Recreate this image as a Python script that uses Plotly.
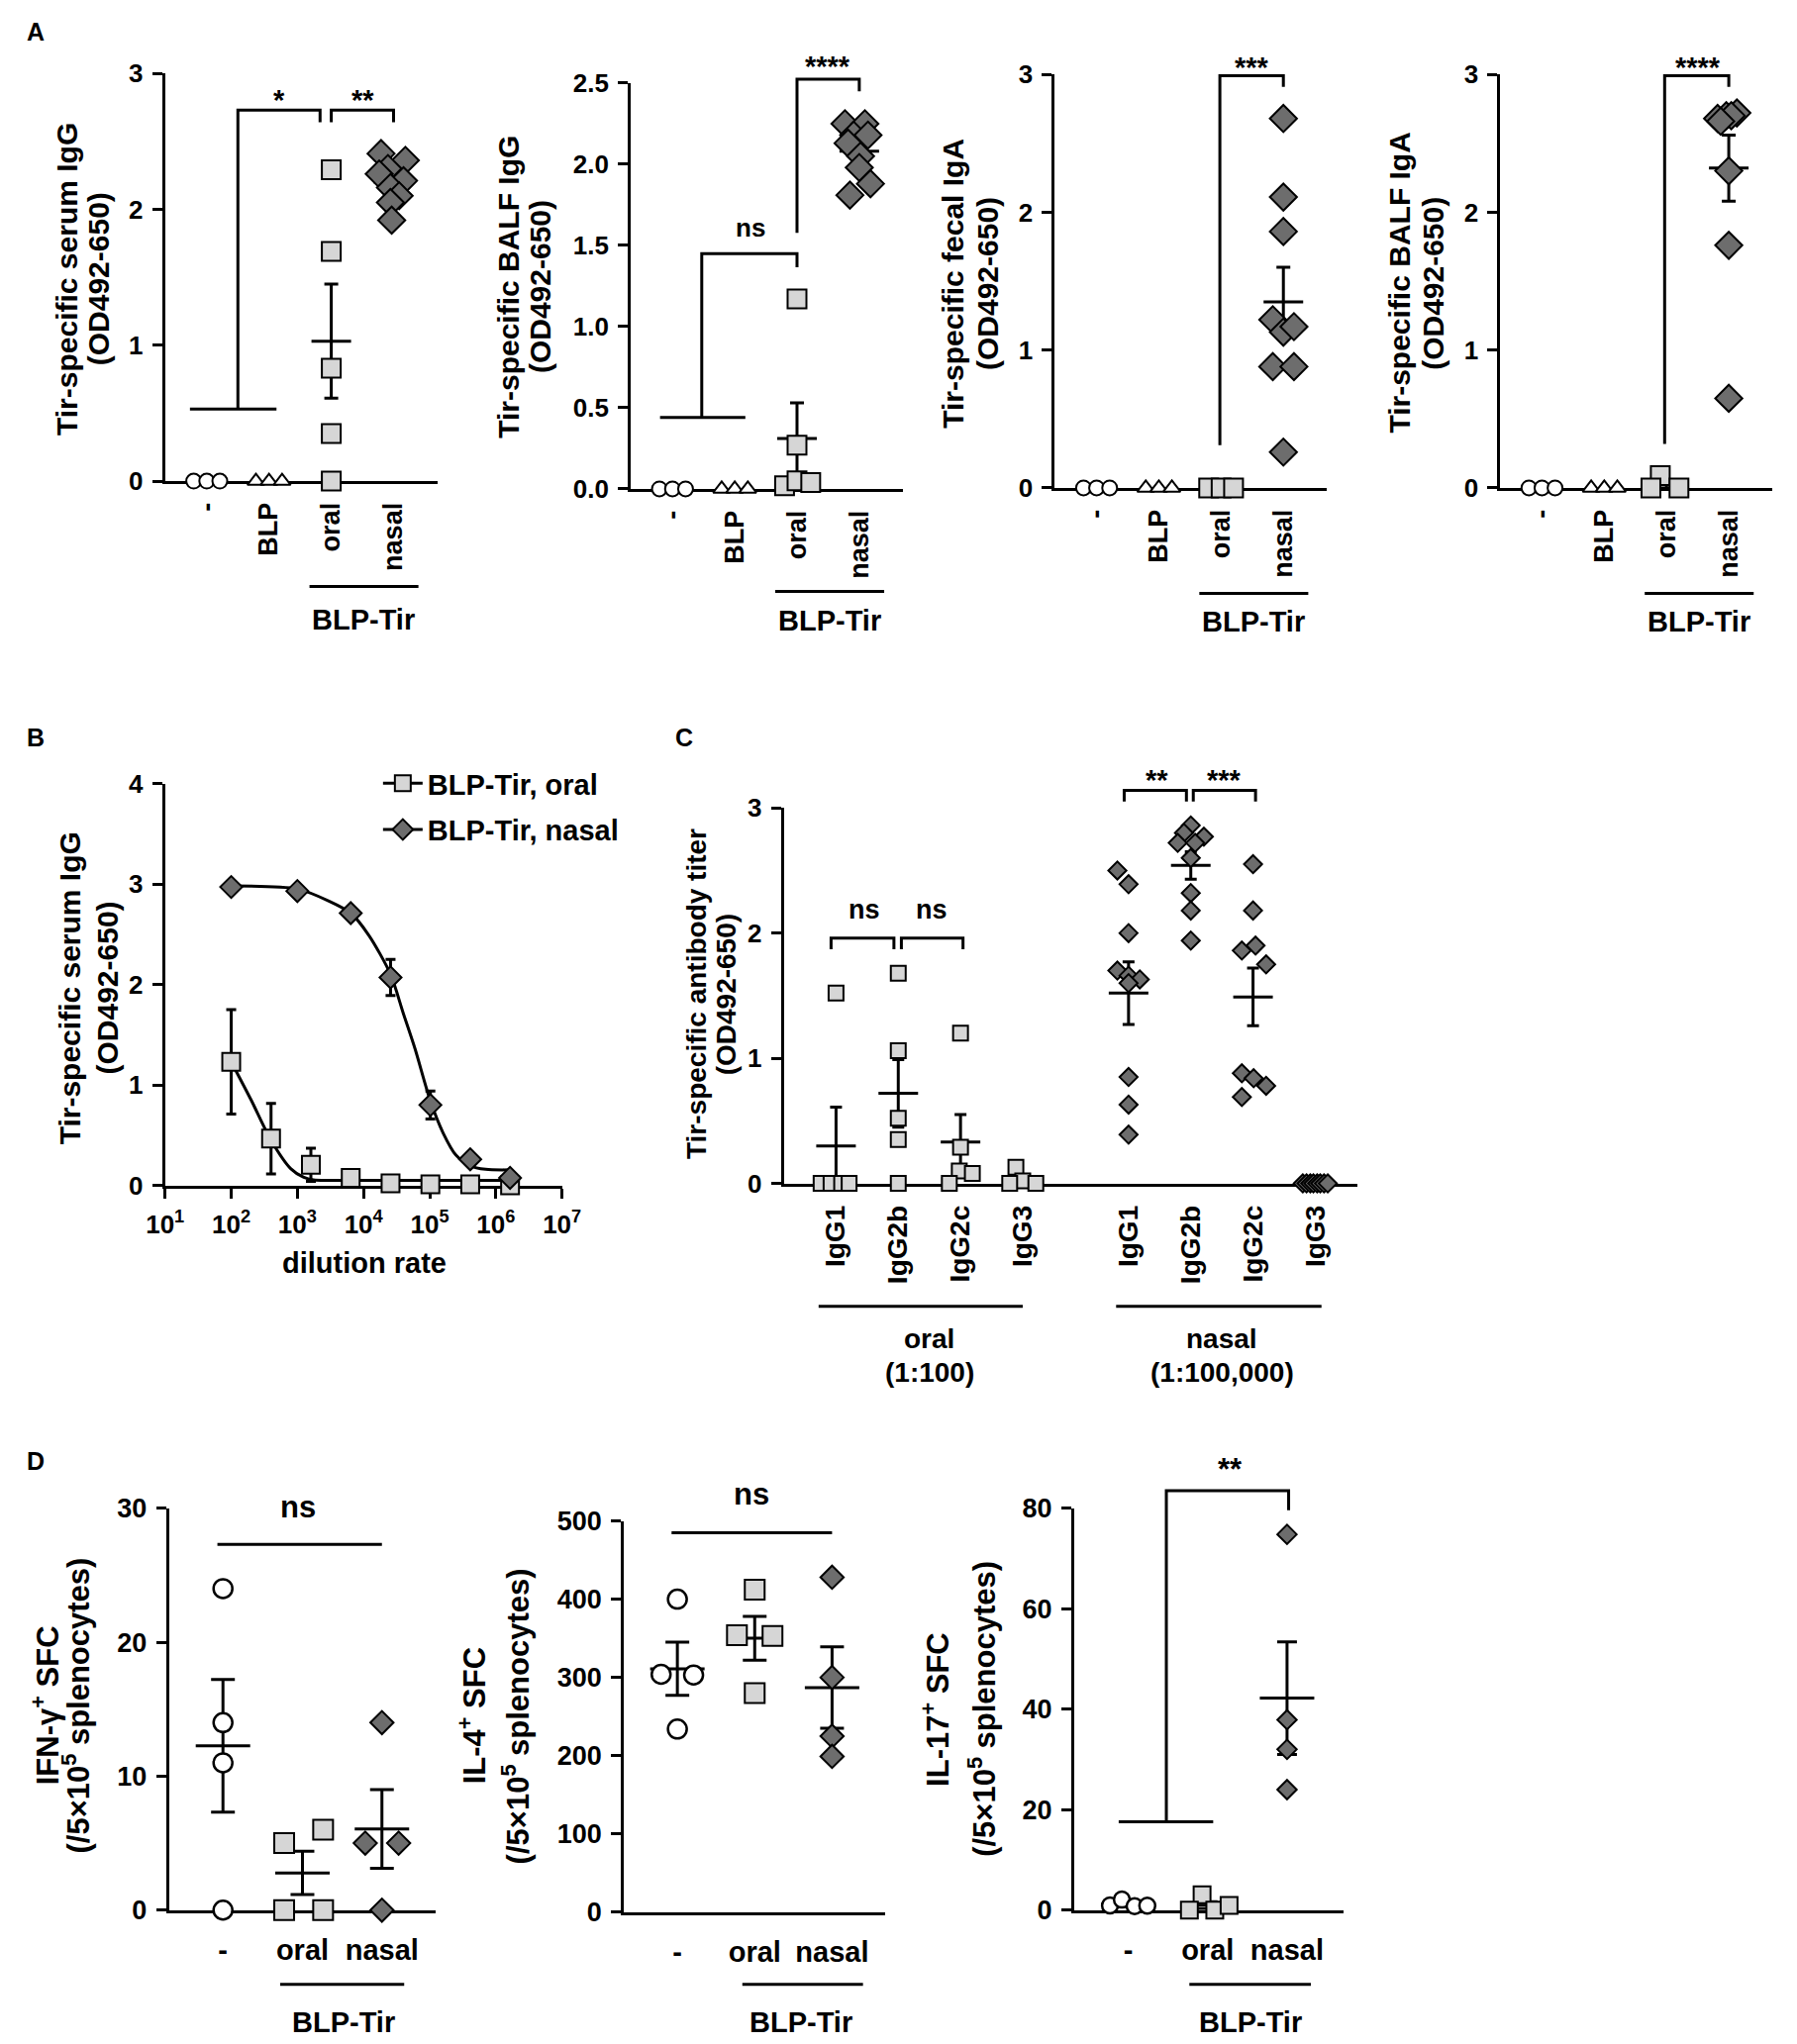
import plotly.graph_objects as go

W, H = 1815, 2065
FONT = "Liberation Sans, Arial, sans-serif"
LIGHT = "#d6d6d6"
DARK = "#6d6d6d"

# ---------------- data ----------------
# A: group positions 0 "-", 1 BLP, 2 BLP-Tir oral, 3 BLP-Tir nasal
a_groups = ["-", "BLP", "oral", "nasal"]
a_ctrl = [0, 0, 0]
a_ctrl_dx = [-0.21, 0, 0.21]

a1_oral = [2.29, 1.69, 0.83, 0.35, 0.0]
a1_oral_dx = [0, 0, 0, 0, 0]
a1_nasal = [2.41, 2.36, 2.30, 2.26, 2.21, 2.16, 2.10, 2.05, 1.92]
a1_nasal_dx = [-0.2, 0.19, -0.09, -0.23, 0.16, -0.05, 0.09, -0.05, -0.03]
a1_mean = [1.03, 2.20]
a1_sem = [0.42, 0.05]

a2_oral = [1.17, 0.27, 0.02, 0.05, 0.04]
a2_oral_dx = [0, 0, -0.2, 0, 0.22]
a2_nasal = [2.25, 2.25, 2.18, 2.18, 2.13, 2.05, 1.98, 1.88, 1.81]
a2_nasal_dx = [-0.23, 0.09, -0.09, 0.14, -0.18, 0.02, 0, 0.18, -0.15]
a2_mean = [0.31, 2.08]
a2_sem = [0.22, 0.05]

a3_oral = [0, 0, 0]
a3_oral_dx = [-0.2, 0, 0.2]
a3_nasal = [2.68, 2.11, 1.86, 1.22, 1.13, 1.17, 0.88, 0.88, 0.26]
a3_nasal_dx = [0, 0, 0, -0.17, 0, 0.17, -0.17, 0.17, 0]
a3_mean = [0.0, 1.35]
a3_sem = [0.0, 0.25]

a4_oral = [0.09, 0.0, 0.0]
a4_oral_dx = [-0.1, -0.25, 0.2]
a4_nasal = [2.72, 2.70, 2.70, 2.68, 2.66, 2.30, 1.76, 0.65]
a4_nasal_dx = [0.13, -0.04, 0.04, -0.18, -0.13, 0, 0, 0]
a4_mean = [0.03, 2.32]
a4_sem = [0.03, 0.24]

a_titles = ["Tir-specific serum IgG", "Tir-specific BALF IgG",
            "Tir-specific fecal IgA", "Tir-specific BALF IgA"]

# B: dilution curves
b_oral_x = [100, 400, 1600, 6400, 25600, 102400, 409600, 1638400]
b_oral_y = [1.23, 0.465, 0.205, 0.075, 0.02, 0.01, 0.01, 0.0]
b_oral_err = [0.52, 0.35, 0.165, 0.0, 0.0, 0.0, 0.0, 0.0]
b_nasal_x = [100, 1000, 6400, 25600, 102400, 409600, 1638400]
b_nasal_y = [2.97, 2.93, 2.71, 2.07, 0.80, 0.26, 0.075]
b_nasal_err = [0.0, 0.0, 0.0, 0.18, 0.14, 0.0, 0.0]
b_oral_fit_x = [100, 200, 400, 800, 1250, 1750, 3000, 10000, 100000, 1638400]
b_oral_fit_y = [1.23, 0.85, 0.45, 0.165, 0.08, 0.055, 0.05, 0.05, 0.05, 0.05]
b_nasal_fit_x = [100, 1000, 3000, 6400, 12000, 25600, 40000, 60000, 102400,
                 160000, 250000, 409600, 700000, 1638400]
b_nasal_fit_y = [2.98, 2.95, 2.83, 2.71, 2.49, 2.10, 1.71, 1.36, 0.84,
                 0.52, 0.30, 0.195, 0.16, 0.155]
b_ticks = [10, 100, 1000, 10000, 100000, 1000000, 10000000]
b_ticktext = ["10<sup>%d</sup>" % i for i in range(1, 8)]

# C: IgG subclasses
c_sub = ["IgG1", "IgG2b", "IgG2c", "IgG3"]
c_oral_pos = [0, 1, 2, 3]
c_nasal_pos = [4.7, 5.7, 6.7, 7.7]
c_oral = [
    [1.52, 0, 0, 0, 0],
    [1.68, 1.06, 0.52, 0.35, 0.0],
    [1.2, 0.29, 0.10, 0.08, 0.0],
    [0.13, 0.02, 0.0, 0.0],
]
c_oral_dx = [
    [0, -0.24, -0.08, 0.09, 0.21],
    [0, 0, 0, 0, 0],
    [0, 0, -0.02, 0.19, -0.18],
    [-0.11, 0, -0.21, 0.21],
]
c_nasal = [
    [2.5, 2.39, 2.0, 1.70, 1.66, 1.63, 1.60, 0.85, 0.63, 0.39],
    [2.86, 2.80, 2.77, 2.72, 2.72, 2.60, 2.32, 2.18, 1.94],
    [2.55, 2.18, 1.90, 1.86, 1.75, 0.88, 0.84, 0.78, 0.69],
    [0, 0, 0, 0, 0, 0, 0, 0],
]
c_nasal_dx = [
    [-0.18, 0, 0, -0.18, 0, 0.18, 0, 0, 0, 0],
    [0, -0.11, 0.21, -0.21, 0.07, 0, 0, 0, 0],
    [0, 0, 0.04, -0.18, 0.21, -0.18, 0.01, 0.21, -0.18],
    [-0.2, -0.14, -0.08, -0.03, 0.03, 0.08, 0.14, 0.2],
]
c_oral_mean = [0.30, 0.72, 0.33, 0.04]
c_oral_sem = [0.31, 0.27, 0.22, 0.03]
c_nasal_mean = [1.52, 2.54, 1.49, 0.0]
c_nasal_sem = [0.25, 0.11, 0.23, 0.0]

# D: ELISPOT (0 "-", 1 oral, 2 nasal)
d_groups = ["-", "oral", "nasal"]
d1_neg = [24, 14, 11, 0]
d1_neg_dx = [0, 0, 0, 0]
d1_oral = [5, 6, 0, 0]
d1_oral_dx = [-0.23, 0.26, -0.23, 0.26]
d1_nasal = [14, 5, 5, 0]
d1_nasal_dx = [0, -0.21, 0.21, 0]
d1_mean = [12.26, 2.78, 6.06]
d1_sem = [4.95, 1.62, 2.93]

d2_neg = [400, 304, 303, 234]
d2_neg_dx = [0, -0.21, 0.21, 0]
d2_oral = [412, 354, 353, 280]
d2_oral_dx = [0, -0.23, 0.23, 0]
d2_nasal = [428, 300, 225, 199]
d2_nasal_dx = [0, 0, 0, 0]
d2_mean = [311, 350, 287]
d2_sem = [34, 28, 52]

d3_neg = [0.94, 2.1, 0.8, 0.9]
d3_neg_dx = [-0.23, -0.08, 0.08, 0.24]
d3_oral = [3.05, 0, 0, 0.94]
d3_oral_dx = [-0.07, -0.23, 0.09, 0.27]
d3_nasal = [74.8, 37.9, 32.0, 24.0]
d3_nasal_dx = [0, 0, 0, 0]
d3_mean = [1.2, 1.0, 42.2]
d3_sem = [0.3, 0.7, 11.2]

# ---------------- layout geometry (pixels) ----------------
P = {
    "a1": dict(n=1, x=(150, 431), xr=(-0.67, 3.7), y=(60, 478), yr=(0, 3)),
    "a2": dict(n=2, x=(631, 912), xr=(-0.67, 3.7), y=(70, 486), yr=(0, 2.5)),
    "a3": dict(n=3, x=(1069, 1350), xr=(-0.67, 3.7), y=(61, 485), yr=(0, 3)),
    "a4": dict(n=4, x=(1529, 1810), xr=(-0.67, 3.7), y=(61, 485), yr=(0, 3)),
    "b": dict(n=5, x=(150, 560), xr=(1, 7), y=(788, 1200), yr=(0, 4)),
    "c": dict(n=6, x=(789, 1381), xr=(-0.84, 8.37), y=(813, 1198), yr=(0, 3)),
    "d1": dict(n=7, x=(154, 429), xr=(-0.68, 2.67), y=(1531, 1943), yr=(0, 30)),
    "d2": dict(n=8, x=(624, 894), xr=(-0.69, 2.69), y=(1544, 1945), yr=(0, 500)),
    "d3": dict(n=9, x=(1089, 1367), xr=(-0.68, 2.71), y=(1531, 1943), yr=(0, 80)),
}


def ref(p, a):
    return a if p["n"] == 1 else "%s%d" % (a, p["n"])


def px_x(p, v):
    (x0, x1), (r0, r1) = p["x"], p["xr"]
    return x0 + (v - r0) / (r1 - r0) * (x1 - x0)


def px_y(p, v):
    (t, b), (r0, r1) = p["y"], p["yr"]
    return b - (v - r0) / (r1 - r0) * (b - t)


def fx(px):
    return px / W


def fy(py):
    return 1 - py / H


fig = go.Figure()


def dots(p, pos, ys, dx, symbol, fill, size, lw=2):
    fig.add_trace(go.Scatter(
        x=[pos + d for d in dx], y=ys, mode="markers",
        marker=dict(symbol=symbol, color=fill, size=size,
                    line=dict(color="black", width=lw)),
        xaxis=ref(p, "x"), yaxis=ref(p, "y"), cliponaxis=False,
        showlegend=False, hoverinfo="skip"))


def mean_sem(p, xs, means, sems, bar, cap):
    fig.add_trace(go.Scatter(
        x=xs, y=means, mode="markers",
        marker=dict(symbol="line-ew", size=bar / 1.4,
                    line=dict(color="black", width=3)),
        error_y=dict(type="data", array=sems, color="black",
                     thickness=3, width=cap),
        xaxis=ref(p, "x"), yaxis=ref(p, "y"), cliponaxis=False,
        showlegend=False, hoverinfo="skip"))


shapes, annos = [], []


def polyline(p, pts):
    path = "M " + " L ".join("%.5f,%.5f" % (fx(px_x(p, x)), fy(px_y(p, y)))
                             for x, y in pts)
    shapes.append(dict(type="path", path=path, xref="paper", yref="paper",
                       line=dict(color="black", width=3)))


def hline_px(x0, x1, y):
    shapes.append(dict(type="line", x0=fx(x0), x1=fx(x1), y0=fy(y), y1=fy(y),
                       xref="paper", yref="paper",
                       line=dict(color="black", width=3)))


def text_px(t, x, y, size, angle=0, yshift=0):
    annos.append(dict(text=t, x=fx(x), y=fy(y), xref="paper", yref="paper",
                      showarrow=False, textangle=angle, yshift=yshift,
                      xanchor="center", yanchor="middle",
                      font=dict(family=FONT, size=size, color="black",
                                weight="bold")))


def sig(p, t, x, y, size):
    # significance labels sit above the axis ranges, so they live in paper space
    text_px(t, px_x(p, x), px_y(p, y), size, yshift=-8 if "*" in t else 3)


# ---------------- panel A ----------------
a_sets = [
    ("a1", a1_oral, a1_oral_dx, a1_nasal, a1_nasal_dx, a1_mean, a1_sem),
    ("a2", a2_oral, a2_oral_dx, a2_nasal, a2_nasal_dx, a2_mean, a2_sem),
    ("a3", a3_oral, a3_oral_dx, a3_nasal, a3_nasal_dx, a3_mean, a3_sem),
    ("a4", a4_oral, a4_oral_dx, a4_nasal, a4_nasal_dx, a4_mean, a4_sem),
]
for key, oral, odx, nasal, ndx, m, s in a_sets:
    p = P[key]
    mean_sem(p, [2, 3], m, s, 40, 7)
    dots(p, 0, a_ctrl, a_ctrl_dx, "circle", "white", 15)
    dots(p, 1, a_ctrl, a_ctrl_dx, "triangle-up", "white", 15)
    dots(p, 2, oral, odx, "square", LIGHT, 19)
    dots(p, 3, nasal, ndx, "diamond", DARK, 21)

polyline(P["a1"], [(-0.27, 0.53), (1.12, 0.53)])
polyline(P["a1"], [(0.5, 0.53), (0.5, 2.73), (1.82, 2.73), (1.82, 2.64)])
polyline(P["a1"], [(2.0, 2.64), (2.0, 2.73), (3.0, 2.73), (3.0, 2.64)])
sig(P["a1"], "*", 1.16, 2.86, 29)
sig(P["a1"], "**", 2.5, 2.86, 29)

polyline(P["a2"], [(-0.2, 0.44), (1.17, 0.44)])
polyline(P["a2"], [(0.47, 0.44), (0.47, 1.45), (2.0, 1.45), (2.0, 1.365)])
polyline(P["a2"], [(2.0, 1.577), (2.0, 2.525), (3.0, 2.525), (3.0, 2.45)])
sig(P["a2"], "ns", 1.25, 1.59, 26)
sig(P["a2"], "****", 2.5, 2.65, 29)

polyline(P["a3"], [(1.98, 0.31), (1.98, 2.99), (3.0, 2.99), (3.0, 2.91)])
sig(P["a3"], "***", 2.5, 3.11, 29)
polyline(P["a4"], [(1.97, 0.32), (1.97, 2.99), (3.0, 2.99), (3.0, 2.91)])
sig(P["a4"], "****", 2.5, 3.11, 29)

a_under_y = {"a1": 586, "a2": 591, "a3": 593, "a4": 593}
a_label_y = {"a1": 620, "a2": 621, "a3": 622, "a4": 622}
a_title_x = {"a1": (48, 81), "a2": (505, 538), "a3": (963, 999), "a4": (1424, 1459)}
a_title_y = {"a1": 271, "a2": 279, "a3": 275, "a4": 275}
for i, key in enumerate(["a1", "a2", "a3", "a4"]):
    p = P[key]
    hline_px(px_x(p, 1.65), px_x(p, 3.4), a_under_y[key])
    text_px("BLP-Tir", px_x(p, 2.52), a_label_y[key], 29)
    text_px(a_titles[i], a_title_x[key][0], a_title_y[key], 30, -90)
    text_px("(OD492-650)", a_title_x[key][1], a_title_y[key], 30, -90)

# ---------------- panel B ----------------
fig.add_trace(go.Scatter(x=b_oral_fit_x, y=b_oral_fit_y, mode="lines",
                         line=dict(color="black", width=3, shape="spline", smoothing=0.8),
                         xaxis="x5", yaxis="y5", showlegend=False, hoverinfo="skip"))
fig.add_trace(go.Scatter(x=b_nasal_fit_x, y=b_nasal_fit_y, mode="lines",
                         line=dict(color="black", width=3, shape="spline", smoothing=0.8),
                         xaxis="x5", yaxis="y5", showlegend=False, hoverinfo="skip"))
fig.add_trace(go.Scatter(x=b_oral_x, y=b_oral_y, mode="markers",
                         marker=dict(symbol="square", color=LIGHT, size=18,
                                     line=dict(color="black", width=2)),
                         error_y=dict(type="data", array=b_oral_err, color="black",
                                      thickness=3, width=5),
                         xaxis="x5", yaxis="y5", cliponaxis=False,
                         showlegend=False, hoverinfo="skip"))
fig.add_trace(go.Scatter(x=b_nasal_x, y=b_nasal_y, mode="markers",
                         marker=dict(symbol="diamond", color=DARK, size=17,
                                     line=dict(color="black", width=2)),
                         error_y=dict(type="data", array=b_nasal_err, color="black",
                                      thickness=3, width=5),
                         xaxis="x5", yaxis="y5", cliponaxis=False,
                         showlegend=False, hoverinfo="skip"))
# legend entries
fig.add_trace(go.Scatter(x=[None], y=[None], mode="lines+markers", name="BLP-Tir, oral",
                         legendgroup="o", xaxis="x5", yaxis="y5",
                         line=dict(color="black", width=3),
                         marker=dict(symbol="square", color=LIGHT, size=16,
                                     line=dict(color="black", width=2))))
fig.add_trace(go.Scatter(x=[None], y=[None], mode="lines+markers", name="BLP-Tir, nasal",
                         legendgroup="n", xaxis="x5", yaxis="y5",
                         line=dict(color="black", width=3),
                         marker=dict(symbol="diamond", color=DARK, size=16,
                                     line=dict(color="black", width=2))))
text_px("Tir-specific serum IgG", 52, 998, 30, -90)
text_px("(OD492-650)", 90, 998, 30, -90)
text_px("dilution rate", 356, 1280, 29)

# ---------------- panel C ----------------
pc = P["c"]
mean_sem(pc, c_oral_pos, c_oral_mean, c_oral_sem, 40, 6)
mean_sem(pc, c_nasal_pos, c_nasal_mean, c_nasal_sem, 40, 6)
for i in range(4):
    dots(pc, c_oral_pos[i], c_oral[i], c_oral_dx[i], "square", LIGHT, 15)
    dots(pc, c_nasal_pos[i], c_nasal[i], c_nasal_dx[i], "diamond", DARK, 14)
polyline(pc, [(-0.08, 1.87), (-0.08, 1.96), (0.93, 1.96), (0.93, 1.87)])
polyline(pc, [(1.05, 1.87), (1.05, 1.96), (2.04, 1.96), (2.04, 1.87)])
polyline(pc, [(4.63, 3.05), (4.63, 3.14), (5.63, 3.14), (5.63, 3.05)])
polyline(pc, [(5.74, 3.05), (5.74, 3.14), (6.74, 3.14), (6.74, 3.05)])
sig(pc, "ns", 0.46, 2.16, 27)
sig(pc, "ns", 1.54, 2.16, 27)
sig(pc, "**", 5.16, 3.29, 29)
sig(pc, "***", 6.24, 3.29, 29)
hline_px(px_x(pc, -0.28), px_x(pc, 3.0), 1324)
hline_px(px_x(pc, 4.5), px_x(pc, 7.8), 1324)
text_px("oral", px_x(pc, 1.5), 1357, 28)
text_px("(1:100)", px_x(pc, 1.5), 1392, 28)
text_px("nasal", px_x(pc, 6.2), 1357, 28)
text_px("(1:100,000)", px_x(pc, 6.2), 1392, 28)
text_px("Tir-specific antibody titer", 699, 1004, 28, -90)
text_px("(OD492-650)", 730, 1004, 28, -90)

# ---------------- panel D ----------------
d_sets = [
    ("d1", d1_neg, d1_neg_dx, d1_oral, d1_oral_dx, d1_nasal, d1_nasal_dx, d1_mean, d1_sem, 19, 12),
    ("d2", d2_neg, d2_neg_dx, d2_oral, d2_oral_dx, d2_nasal, d2_nasal_dx, d2_mean, d2_sem, 19, 12),
    ("d3", d3_neg, d3_neg_dx, d3_oral, d3_oral_dx, d3_nasal, d3_nasal_dx, d3_mean, d3_sem, 16, 10),
]
for key, neg, ndx0, oral, odx, nasal, ndx, m, s, msz, cap in d_sets:
    p = P[key]
    mean_sem(p, [0, 1, 2], m, s, 55, cap)
    dots(p, 0, neg, ndx0, "circle", "white", msz, 2.5)
    dots(p, 1, oral, odx, "square", LIGHT, msz + 1)
    dots(p, 2, nasal, ndx, "diamond", DARK, msz - 1)

polyline(P["d1"], [(-0.07, 27.3), (2.0, 27.3)])
sig(P["d1"], "ns", 0.95, 29.9, 31)
polyline(P["d2"], [(-0.075, 485), (2.0, 485)])
sig(P["d2"], "ns", 0.96, 531, 31)
polyline(P["d3"], [(-0.12, 17.6), (1.07, 17.6)])
polyline(P["d3"], [(0.48, 17.6), (0.48, 83.5), (2.02, 83.5), (2.02, 79.6)])
sig(P["d3"], "**", 1.28, 89.4, 31)

d_under = {"d1": (0.72, 2.28, 1.52), "d2": (0.84, 2.4, 1.6), "d3": (0.77, 2.3, 1.54)}
for key, (u0, u1, lc) in d_under.items():
    p = P[key]
    hline_px(px_x(p, u0), px_x(p, u1), 2019)
    text_px("BLP-Tir", px_x(p, lc), 2058, 29)

text_px("IFN-γ<sup>+</sup> SFC", 26, 1733, 31, -90)
text_px("(/5×10<sup>5</sup> splenocytes)", 58, 1733, 31, -90)
text_px("IL-4<sup>+</sup> SFC", 467, 1744, 31, -90)
text_px("(/5×10<sup>5</sup> splenocytes)", 512, 1744, 31, -90)
text_px("IL-17<sup>+</sup> SFC", 946, 1737, 31, -90)
text_px("(/5×10<sup>5</sup> splenocytes)", 994, 1737, 31, -90)

# panel letters
for t, x, y in [("A", 16, 17), ("B", 16, 741), ("C", 686, 741), ("D", 16, 1483)]:
    text_px(t, x, y, 25)

# ---------------- axes ----------------
lay = {}
tick_font = dict(family=FONT, size=26, color="black", weight="bold")
cat_font = dict(family=FONT, size=27, color="black", weight="bold")
for key, p in P.items():
    n = p["n"]
    xname = "xaxis" if n == 1 else "xaxis%d" % n
    yname = "yaxis" if n == 1 else "yaxis%d" % n
    common = dict(showline=True, linewidth=3, linecolor="black", showgrid=False,
                  zeroline=False, layer="below traces")
    xa = dict(common, domain=[fx(p["x"][0]), fx(p["x"][1])], range=list(p["xr"]),
              anchor=ref(p, "y"))
    ya = dict(common, domain=[fy(p["y"][1]), fy(p["y"][0])], range=list(p["yr"]),
              anchor=ref(p, "x"), ticks="outside", ticklen=10, tickwidth=3,
              tickcolor="black", tickfont=tick_font, ticklabelstandoff=4)
    if key.startswith("a"):
        xa.update(tickmode="array", tickvals=[0, 1, 2, 3], ticktext=a_groups,
                  tickangle=-90, ticks="", tickfont=cat_font, ticklabelstandoff=8)
        ya.update(tickmode="array",
                  tickvals=[0, 0.5, 1, 1.5, 2, 2.5] if key == "a2" else [0, 1, 2, 3],
                  tickformat=".1f" if key == "a2" else "d")
    elif key == "b":
        xa.update(type="log", tickmode="array", tickvals=b_ticks, ticktext=b_ticktext,
                  ticks="outside", ticklen=10, tickwidth=3, tickcolor="black",
                  tickfont=tick_font, ticklabelstandoff=4)
        ya.update(tickmode="array", tickvals=[0, 1, 2, 3, 4])
    elif key == "c":
        xa.update(tickmode="array", tickvals=c_oral_pos + c_nasal_pos,
                  ticktext=c_sub + c_sub, tickangle=-90, ticks="",
                  tickfont=dict(cat_font, size=28), ticklabelstandoff=8)
        ya.update(tickmode="array", tickvals=[0, 1, 2, 3])
    else:
        xa.update(tickmode="array", tickvals=[0, 1, 2], ticktext=d_groups, ticks="",
                  tickfont=dict(cat_font, size=29), ticklabelstandoff=12)
        yv = {"d1": [0, 10, 20, 30], "d2": [0, 100, 200, 300, 400, 500],
              "d3": [0, 20, 40, 60, 80]}[key]
        ya.update(tickmode="array", tickvals=yv, tickfont=dict(tick_font, size=27))
    lay[xname] = xa
    lay[yname] = ya

fig.update_layout(
    width=W, height=H, margin=dict(l=0, r=0, t=0, b=0),
    paper_bgcolor="white", plot_bgcolor="white",
    font=dict(family=FONT, color="black", weight="bold"),
    shapes=shapes, annotations=annos,
    showlegend=True,
    legend=dict(x=fx(370), y=fy(762), xanchor="left", yanchor="top",
                font=dict(family=FONT, size=29, color="black", weight="bold"),
                bgcolor="rgba(0,0,0,0)", tracegroupgap=6, itemwidth=40),
    **lay,
)

fig.write_html("out.html", config={"displayModeBar": False},
               post_script="document.body.style.margin='0';")
